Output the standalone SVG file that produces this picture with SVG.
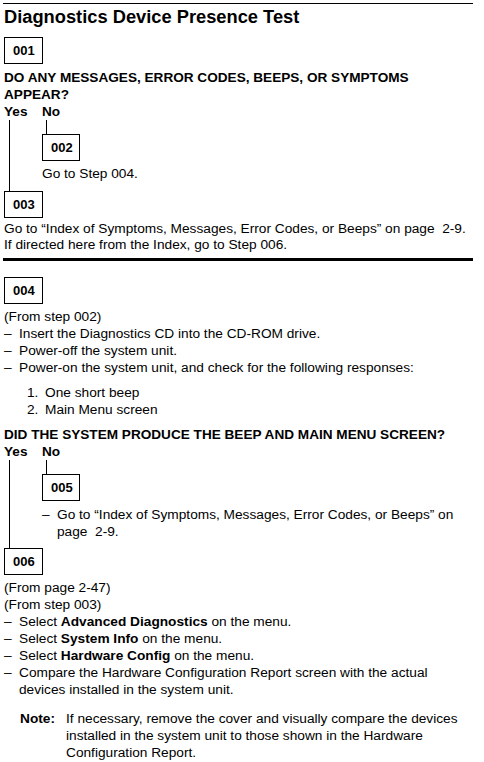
<svg xmlns="http://www.w3.org/2000/svg" width="484" height="762" viewBox="0 0 484 762">
<style>
text{font-family:"Liberation Sans",Arial,sans-serif;fill:#000;white-space:pre}
.t{font-size:18.3px;font-weight:bold}
.q{font-size:13.6px;font-weight:bold}
.b{font-size:13.7px}
.lb{font-size:13px;font-weight:bold}
.box{fill:#fff;stroke:#000;stroke-width:1}
.con{stroke:#000;stroke-width:1;fill:none}
</style>
<rect width="484" height="762" fill="#fff"/>
<line x1="3" y1="3.5" x2="473" y2="3.5" stroke="#000" stroke-width="1.2"/>
<text class="t" x="4" y="23">Diagnostics Device Presence Test</text>

<g id="connectors">
<path class="con" d="M9.5 120V191.5M46.5 120V134.5"/>
<path class="con" d="M9.5 460V548.5M46.5 460V474.5"/>
</g>

<g id="step001">
<rect class="box" x="4.5" y="37.5" width="38" height="26"/>
<text class="lb" x="13" y="55">001</text>
<text class="q" x="4" y="82">DO ANY MESSAGES, ERROR CODES, BEEPS, OR SYMPTOMS</text>
<text class="q" x="4" y="99">APPEAR?</text>
<text class="q" x="4" y="116">Yes</text>
<text class="q" x="42" y="116">No</text>
</g>

<g id="step002">
<rect class="box" x="42.5" y="134.5" width="37" height="26"/>
<text class="lb" x="51" y="152">002</text>
<text class="b" x="42" y="178">Go to Step 004.</text>
</g>

<g id="step003">
<rect class="box" x="4.5" y="191.5" width="38" height="26"/>
<text class="lb" x="13" y="209">003</text>
<text class="b" x="4" y="233">Go to “Index of Symptoms, Messages, Error Codes, or Beeps” on page  2-9.</text>
<text class="b" x="4" y="249">If directed here from the Index, go to Step 006.</text>
</g>

<line x1="3" y1="259.5" x2="473" y2="259.5" stroke="#000" stroke-width="3"/>

<g id="step004">
<rect class="box" x="4.5" y="277.5" width="38" height="26"/>
<text class="lb" x="13" y="295">004</text>
<text class="b" x="4" y="321">(From step 002)</text>
<text class="b" x="4" y="338">–</text><text class="b" x="19" y="338">Insert the Diagnostics CD into the CD-ROM drive.</text>
<text class="b" x="4" y="355">–</text><text class="b" x="19" y="355">Power-off the system unit.</text>
<text class="b" x="4" y="372">–</text><text class="b" x="19" y="372">Power-on the system unit, and check for the following responses:</text>
<text class="b" x="27" y="397">1.</text><text class="b" x="45" y="397">One short beep</text>
<text class="b" x="27" y="414">2.</text><text class="b" x="45" y="414">Main Menu screen</text>
<text class="q" x="4" y="439">DID THE SYSTEM PRODUCE THE BEEP AND MAIN MENU SCREEN?</text>
<text class="q" x="4" y="456">Yes</text>
<text class="q" x="42" y="456">No</text>
</g>

<g id="step005">
<rect class="box" x="42.5" y="474.5" width="37" height="26"/>
<text class="lb" x="51" y="492">005</text>
<text class="b" x="42" y="519">–</text><text class="b" x="57" y="519">Go to “Index of Symptoms, Messages, Error Codes, or Beeps” on</text>
<text class="b" x="57" y="536">page  2-9.</text>
</g>

<g id="step006">
<rect class="box" x="4.5" y="548.5" width="38" height="26"/>
<text class="lb" x="13" y="566">006</text>
<text class="b" x="4" y="592">(From page 2-47)</text>
<text class="b" x="4" y="609">(From step 003)</text>
<text class="b" x="4" y="626">–</text><text class="b" x="19" y="626">Select <tspan font-weight="bold">Advanced Diagnostics</tspan> on the menu.</text>
<text class="b" x="4" y="643">–</text><text class="b" x="19" y="643">Select <tspan font-weight="bold">System Info</tspan> on the menu.</text>
<text class="b" x="4" y="660">–</text><text class="b" x="19" y="660">Select <tspan font-weight="bold">Hardware Config</tspan> on the menu.</text>
<text class="b" x="4" y="677">–</text><text class="b" x="19" y="677">Compare the Hardware Configuration Report screen with the actual</text>
<text class="b" x="19" y="694">devices installed in the system unit.</text>
<text class="b" x="20" y="723" font-weight="bold">Note:</text><text class="b" x="66" y="723">If necessary, remove the cover and visually compare the devices</text>
<text class="b" x="66" y="740">installed in the system unit to those shown in the Hardware</text>
<text class="b" x="66" y="757">Configuration Report.</text>
</g>
</svg>
